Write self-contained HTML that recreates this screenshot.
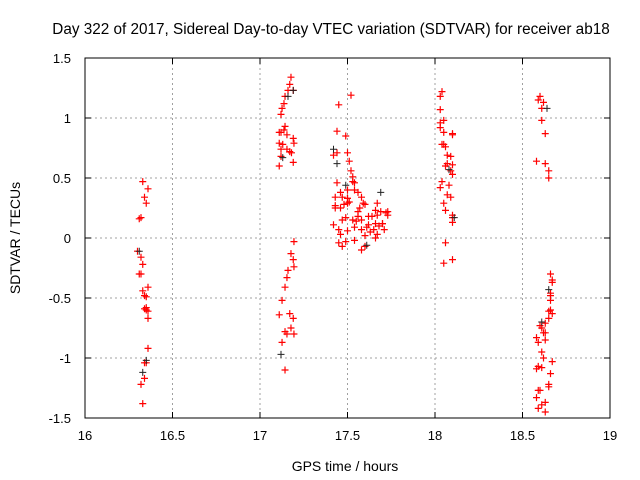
<!DOCTYPE html>
<html><head><meta charset="utf-8"><style>
html,body{margin:0;padding:0;background:#fff;}
svg{display:block;font-family:"Liberation Sans",sans-serif;}
</style></head><body>
<svg id="chart" width="640" height="480" viewBox="0 0 640 480">
<rect width="640" height="480" fill="#fff"/>
<text x="331" y="34" font-size="15.3" text-anchor="middle">Day 322 of 2017, Sidereal Day-to-day VTEC variation (SDTVAR) for receiver ab18</text>
<g id="grid"></g>
<g id="axes"></g>
<g id="red"></g>
<g id="black"></g>
<text x="345" y="471" font-size="14" text-anchor="middle">GPS time / hours</text>
<text transform="translate(20,238) rotate(-90)" font-size="14" text-anchor="middle">SDTVAR / TECUs</text>
</svg>
<script>
const xTicks=[16,16.5,17,17.5,18,18.5,19];
const xTickLabels=["16","16.5","17","17.5","18","18.5","19"];
const yTicks=[-1.5,-1,-0.5,0,0.5,1,1.5];
const yTickLabels=["-1.5","-1","-0.5","0","0.5","1","1.5"];
const redX=[16.33,16.36,16.34,16.35,16.32,16.31,16.30,16.32,16.33,16.31,16.32,16.36,16.33,16.34,16.35,16.35,16.34,16.35,16.36,16.36,16.36,16.34,16.35,16.34,16.32,16.33,
17.177,17.17,17.16,17.19,17.143,17.137,17.126,17.12,17.143,17.11,17.12,17.137,17.154,17.11,17.13,17.19,17.194,17.154,17.17,17.18,17.12,17.19,
17.194,17.177,17.19,17.194,17.16,17.154,17.143,17.126,17.11,17.17,17.19,17.143,17.154,17.194,17.177,17.126,17.143,17.12,17.11,
17.42,17.44,17.50,17.51,17.52,17.53,17.54,17.53,17.54,17.44,17.46,17.47,17.50,17.43,17.50,17.56,17.58,17.67,17.66,17.46,17.43,17.50,17.56,17.59,17.60,17.69,17.73,17.73,17.67,17.56,17.62,17.47,17.53,17.49,17.58,17.66,17.70,17.70,17.42,17.54,17.61,17.65,17.71,17.45,17.50,17.58,17.63,17.67,17.46,17.60,17.66,17.54,17.45,17.49,17.47,17.58,17.60,17.44,17.49,17.50,17.51,17.43,17.48,17.55,17.62,17.64,17.68,17.72,17.57,17.52,17.45,
18.03,18.03,18.05,18.03,18.05,18.10,18.10,18.04,18.06,18.05,18.07,18.09,18.07,18.10,18.06,18.09,18.10,18.08,18.04,18.03,18.07,18.09,18.05,18.06,18.10,18.10,18.10,18.06,18.10,18.05,18.04,18.03,
18.60,18.59,18.62,18.61,18.61,18.63,18.58,18.63,18.65,18.65,18.66,18.67,18.67,18.66,18.66,18.66,18.65,18.66,18.67,18.65,18.63,18.60,18.61,18.63,18.62,18.58,18.63,18.59,18.61,18.62,18.67,18.61,18.59,18.58,18.66,18.65,18.65,18.59,18.60,18.58,18.63,18.61,18.63,18.59,18.61,18.62];
const redY=[0.47,0.41,0.34,0.29,0.17,0.16,-0.11,-0.16,-0.22,-0.30,-0.30,-0.41,-0.44,-0.48,-0.49,-0.58,-0.59,-0.60,-0.61,-0.67,-0.92,-1.04,-1.04,-1.17,-1.22,-1.38,
1.34,1.28,1.23,1.23,1.18,1.12,1.08,1.03,0.93,0.88,0.88,0.90,0.86,0.79,0.78,0.83,0.79,0.74,0.72,0.71,0.68,0.63,
-0.03,-0.13,-0.18,-0.24,-0.27,-0.33,-0.41,-0.52,-0.64,-0.63,-0.67,-0.78,-0.80,-0.80,-0.75,-0.87,-1.10,
0.74,0.60,0.69,0.71,0.71,0.64,0.56,0.51,0.46,0.47,0.40,0.46,0.38,0.34,0.33,0.34,0.33,0.38,0.34,0.29,0.23,0.25,0.25,0.29,0.22,0.29,0.28,0.22,0.22,0.19,0.19,0.18,0.18,0.15,0.15,0.17,0.15,0.12,0.12,0.12,0.11,0.09,0.09,0.07,0.07,0.07,0.06,0.07,0.05,0.03,0.03,0.02,0.00,-0.02,-0.04,-0.03,-0.07,-0.10,-0.07,0.89,0.85,0.40,0.30,0.27,0.28,0.14,0.11,0.18,0.10,0.21,0.25,
1.19,1.11,1.07,0.96,0.98,0.92,0.88,0.87,0.86,0.78,0.76,0.78,0.69,0.68,0.62,0.61,0.60,0.56,0.53,0.44,0.47,0.42,0.36,0.34,0.29,0.23,0.19,0.17,0.13,-0.04,-0.18,-0.21,
1.22,1.18,1.18,1.15,1.13,1.08,0.98,0.87,0.64,0.62,0.56,0.50,-0.30,-0.35,-0.37,-0.46,-0.48,-0.52,-0.61,-0.60,-0.63,-0.67,-0.71,-0.73,-0.75,-0.79,-0.79,-0.83,-0.85,-0.87,-0.95,-1.00,-1.03,-1.08,-1.07,-1.09,-1.13,-1.22,-1.24,-1.27,-1.27,-1.33,-1.37,-1.39,-1.45,-1.42];
const blackX=[16.33,16.31,16.35,17.13,17.19,17.12,17.16,17.42,17.49,17.69,17.61,17.44,18.11,18.08,18.64,18.65,18.61];
const blackY=[-1.12,-0.11,-1.02,0.67,1.23,-0.97,1.18,0.74,0.44,0.38,-0.06,0.62,0.17,0.57,1.08,-0.43,-0.70];

const L=85,R=610,T=58,B=418,xMin=16,xMax=19,yMin=-1.5,yMax=1.5;
const sx=v=>L+(v-xMin)/(xMax-xMin)*(R-L);
const sy=v=>B-(v-yMin)/(yMax-yMin)*(B-T);
const NS="http://www.w3.org/2000/svg";
function mk(tag,attrs,parent){const e=document.createElementNS(NS,tag);for(const k in attrs)e.setAttribute(k,attrs[k]);parent.appendChild(e);return e;}
const grid=document.getElementById('grid'),axes=document.getElementById('axes');
xTicks.forEach((t,i)=>{
  const x=sx(t);
  if(i>0&&i<xTicks.length-1){const g=mk('line',{x1:x,x2:x,y1:T,y2:B,stroke:'#a0a0a0','stroke-dasharray':'2,3'},grid);
  
  }
  mk('line',{x1:x,x2:x,y1:B,y2:B-6,stroke:'#000'},axes);
  mk('line',{x1:x,x2:x,y1:T,y2:T+6,stroke:'#000'},axes);
  const tx=mk('text',{x:x,y:B+22,'font-size':13,'text-anchor':'middle'},axes);
  tx.textContent=xTickLabels[i];
  
  
});
yTicks.forEach((t,i)=>{
  const y=sy(t);
  if(i>0&&i<yTicks.length-1){const g=mk('line',{x1:L,x2:R,y1:y,y2:y,stroke:'#a0a0a0','stroke-dasharray':'2,3'},grid);
  
  }
  mk('line',{x1:L,x2:L+6,y1:y,y2:y,stroke:'#000'},axes);
  mk('line',{x1:R,x2:R-6,y1:y,y2:y,stroke:'#000'},axes);
  const tx=mk('text',{x:L-14,y:y+5,'font-size':13,'text-anchor':'end'},axes);
  tx.textContent=yTickLabels[i];
  
  
});
const frame=mk('rect',{x:L,y:T,width:R-L,height:B-T,fill:'none',stroke:'#000'},axes);


function plus(g,x,y,c,w){
  return mk('path',{d:`M${x-3.5},${y}h7M${x},${y-3.5}v7`,stroke:c,'stroke-width':w,fill:'none'},g);
}
const rg=document.getElementById('red'),bg=document.getElementById('black');
blackX.forEach((v,i)=>{const p=plus(bg,sx(v),sy(blackY[i]),'#222',1);
  
  });
redX.forEach((v,i)=>{const p=plus(rg,sx(v),sy(redY[i]),'#ff0000',1.2);
  
  });
</script>
</body></html>
